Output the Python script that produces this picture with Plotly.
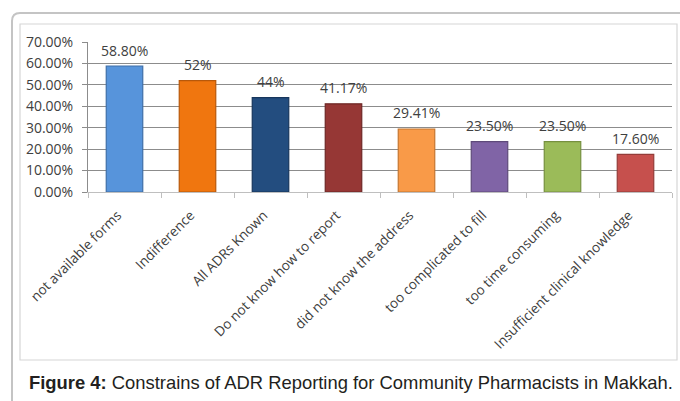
import plotly.graph_objects as go

categories = ["not available forms", "Indifference", "All ADRs Known", "Do not know how to report",
              "did not know the address", "too complicated to fill", "too time consuming",
              "Insufficient clinical knowledge"]
values = [0.588, 0.52, 0.44, 0.4117, 0.2941, 0.235, 0.235, 0.176]
value_labels = ["58.80%", "52%", "44%", "41.17%", "29.41%", "23.50%", "23.50%", "17.60%"]
colors = ["#5794DB", "#F0760F", "#234D7F", "#963735", "#F99A48", "#8064A6", "#9BBB59", "#C6504D"]
edge_colors = ["#3E6FA8", "#B8580A", "#17365C", "#6E2725", "#C5762F", "#5E4A7A", "#76903F", "#943C39"]
y_ticks = [0, 0.1, 0.2, 0.3, 0.4, 0.5, 0.6, 0.7]
y_tick_labels = ["0.00%", "10.00%", "20.00%", "30.00%", "40.00%", "50.00%", "60.00%", "70.00%"]
caption = "<b>Figure 4:</b> Constrains of ADR Reporting for Community Pharmacists in Makkah."

W, H = 680, 401
L, R, T, B = 88, 8, 42, 209
pw, ph = W - L - R, H - T - B


def px(x):
    return (x - L) / pw


def py(y):
    return (H - B - y) / ph


fig = go.Figure()
fig.add_trace(go.Bar(
    x=categories, y=values,
    marker=dict(color=colors, line=dict(color=edge_colors, width=1.2)),
    width=0.5, hoverinfo="skip",
))

for c, v, t in zip(categories, values, value_labels):
    fig.add_annotation(x=c, y=v, text=t, showarrow=False, yshift=16,
                       font=dict(family="Open Sans, Liberation Sans", size=14, color="#404040"))

# caption
fig.add_annotation(xref="paper", yref="paper", x=px(27), y=py(382), xanchor="left", yanchor="middle",
                   text=caption, showarrow=False,
                   font=dict(family="Liberation Sans, Arial", size=18.4, color="#231F20"))

# outer rounded frame (top + left)
r = 8
x0, y0 = 12, 13
path = (f"M {px(x0)},{py(H + 5)} L {px(x0)},{py(y0 + r)} "
        f"Q {px(x0)},{py(y0)} {px(x0 + r)},{py(y0)} L {px(W + 5)},{py(y0)}")
fig.add_shape(type="path", xref="paper", yref="paper", path=path,
              line=dict(color="#C4C4C4", width=2), layer="below")
# inner chart border
fig.add_shape(type="rect", xref="paper", yref="paper",
              x0=px(20), x1=px(677), y0=py(24), y1=py(360),
              line=dict(color="#D6D6D6", width=1.2), layer="below")

fig.update_layout(
    width=W, height=H,
    margin=dict(l=L, r=R, t=T, b=B),
    paper_bgcolor="white", plot_bgcolor="white",
    showlegend=False,
    bargap=0.5,
    font=dict(family="Open Sans, Liberation Sans", color="#404040"),
)
fig.update_xaxes(
    type="category", tickangle=-45, tickson="boundaries", ticks="outside", ticklen=5,
    tickcolor="#BFBFBF", showline=True, linecolor="#BFBFBF", linewidth=1,
    tickfont=dict(size=13.6, color="#404040", family="Open Sans, Liberation Sans"),
    ticklabelshift=-7, ticklabelstandoff=9,
    showgrid=False, range=[-0.5, 7.5],
)
fig.update_yaxes(
    range=[0, 0.7], tickvals=y_ticks, ticktext=y_tick_labels,
    ticks="outside", ticklen=5, tickcolor="#8C8C8C",
    showline=True, linecolor="#8C8C8C", linewidth=1,
    showgrid=True, gridcolor="#8C8C8C", gridwidth=1,
    tickfont=dict(size=14, color="#404040", family="Open Sans, Liberation Sans"),
    ticklabelstandoff=6,
    zeroline=False,
)

fig.write_html("out.html")
